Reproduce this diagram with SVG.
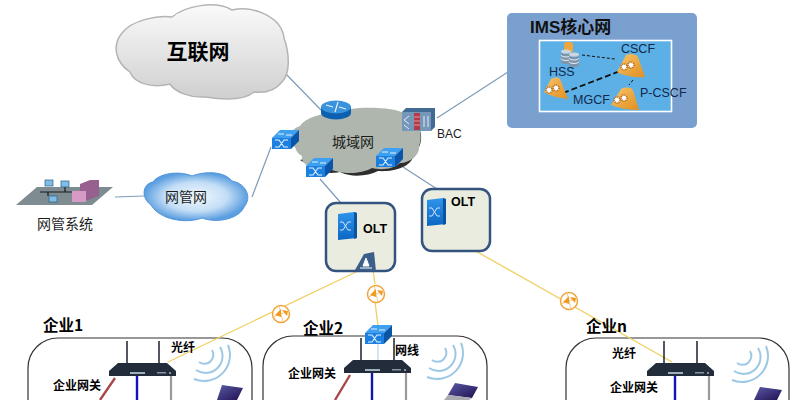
<svg xmlns="http://www.w3.org/2000/svg" xmlns:xlink="http://www.w3.org/1999/xlink" width="800" height="400" viewBox="0 0 800 400">
<style>
text{font-family:"Noto Sans CJK SC","Liberation Sans",sans-serif;fill:#1c1c1c}
.l{font-family:"Liberation Sans","Noto Sans CJK SC",sans-serif}
.b{font-weight:700;fill:#000}
.blue{stroke:#7f9cb8;stroke-width:1.2;fill:none}
.or{stroke:#f0d060;stroke-width:1.3;fill:none}
.box{fill:#fff;stroke:#333;stroke-width:1.2}
.olt{fill:#e9ecdf;stroke:#34537f;stroke-width:2.5}
.wifi{fill:none;stroke:#9cc8e6;stroke-width:2}
.ant{stroke:#2a2f3a;stroke-width:1.6}
.ims{font-size:12.500px;fill:#12284a}
</style>
<defs>
<linearGradient id="gi" x1="0" y1="0" x2="0" y2="1"><stop offset="0" stop-color="#fafafa"/><stop offset="1" stop-color="#cfcfcf"/></linearGradient>
<radialGradient id="gn"><stop offset="0" stop-color="#f4f9fe"/><stop offset=".6" stop-color="#c4def6"/><stop offset="1" stop-color="#5c9fe0"/></radialGradient>
<linearGradient id="gb" x1="0" y1="0" x2="0" y2="1"><stop offset="0" stop-color="#2f94ec"/><stop offset="1" stop-color="#0c66c4"/></linearGradient>
<linearGradient id="gc" x1="0" y1="0" x2="1" y2="1"><stop offset="0" stop-color="#f8c46a"/><stop offset="1" stop-color="#e08f20"/></linearGradient>
<linearGradient id="gl" x1="0" y1="0" x2="1" y2="1"><stop offset="0" stop-color="#5a5aa8"/><stop offset="1" stop-color="#20104f"/></linearGradient>
<g id="sw">
<path d="M0 8L8 0H27L19 8Z" fill="#3ea0f0"/>
<path d="M0 8H19V19H0Z" fill="#1c80e0"/>
<path d="M19 8L27 0V11L19 19Z" fill="#0a55a8"/>
<path d="M3 17H7L12 10H16M3 10H7L12 17H16M6 4H12M14 5H20" stroke="#e2f1fc" stroke-width="1.100" fill="none"/>
</g>
<g id="blade">
<path d="M0 2L16 0L19 1V26L0 28Z" fill="url(#gb)"/>
<path d="M16 0L19 1V26L16 27Z" fill="#0b559f"/>
<path d="M2 10H5L10 18H13M2 18H5L10 10H13" stroke="#cfe6fa" stroke-width="1" fill="none"/>
</g>
<g id="gw">
<path d="M9 0H58L67 8V13H0V8Z" fill="#222c3a"/>
<rect x="21" y="9" width="15" height="2" fill="#9fb0c0"/>
<rect x="48" y="9" width="9" height="1.500" fill="#8795a5"/>
<circle cx="61" cy="10" r="1" fill="#a8b6c4"/>
</g>
<g id="wf">
<path class="wifi" d="M212 350A9 9 0 0 1 199 362"/>
<path class="wifi" d="M220 347A17 17 0 0 1 196 370"/>
<path class="wifi" d="M228 345A26 26 0 0 1 194 379"/>
</g>
<g id="obs">
<circle r="8.500" fill="#fff" stroke="#f2a33a" stroke-width="1.500"/>
<path d="M-8 3L8 -3M-2 -8L2 8" stroke="#f7c98a" stroke-width="1"/>
<path d="M-6 1L0 -5V3ZM6 2L1 -4L7 -3Z" fill="#f09a1e"/>
</g>
<g id="gear"><circle r="3" fill="#fff" stroke="#b86a10" stroke-width="1.600" stroke-dasharray="1.200 .8"/><circle cx="7" cy="-2" r="3" fill="#fff" stroke="#b86a10" stroke-width="1.600" stroke-dasharray="1.200 .8"/></g>
<g id="db"><ellipse cx="5" cy="1.500" rx="5" ry="2" fill="#cdd6e0"/><path d="M0 2V12A5 2 0 0 0 10 12V2A5 2 0 0 1 0 2Z" fill="#7f93aa"/><path d="M0 5A5 2 0 0 0 10 5M0 8.500A5 2 0 0 0 10 8.500" fill="none" stroke="#e8eef3" stroke-width="1"/></g>
</defs>
<rect width="800" height="400" fill="#fff"/>

<g id="enterprise-boxes">
<rect class="box" x="28" y="338" width="224" height="90" rx="30"/>
<rect class="box" x="263" y="336" width="224" height="92" rx="30"/>
<rect class="box" x="566" y="338" width="223" height="90" rx="30"/>
</g>

<g id="connectors">
<path class="blue" d="M284 72L321 110M437 118L508 72M115 197L144 196M252 197L271 147M320 179L348 211M403 167L437 189"/>
<path class="or" d="M358 271L168 362M348 243L364 256M373 270L375 284M375 302L378 326M435 228L672 362"/>
<path d="M378 344V360" stroke="#b9d6ea" stroke-width="1.200"/>
<path d="M115 378L100 400M350 375L335 400" stroke="#a8484a" stroke-width="2.400"/>
<path d="M137 376V400M372 373V400M675 376V400" stroke="#1414b4" stroke-width="2.400"/>
<path d="M171 376V400M406 373V400M709 376V400" stroke="#9a9a9a" stroke-width="2.200"/>
</g>

<g id="internet">
<path d="M130 72C115 62 112 45 122 33C132 20 158 15 172 17C185 6 215 0 232 10C255 5 282 18 284 38C290 55 290 74 282 82C274 92 262 93 254 92C245 100 225 100 205 97C190 98 175 92 170 84C155 88 135 85 130 72Z" fill="url(#gi)" stroke="#b4b4b4" stroke-width="1.500"/>
<text x="198" y="59" font-size="21" font-weight="700" text-anchor="middle" class="b">互联网</text>
</g>

<g id="nms-net">
<path d="M151 205C141 198 142 184 153 182C158 174 178 170 192 176C205 171 224 171 232 181C247 184 252 198 244 207C240 218 218 224 202 218C186 224 160 220 151 205Z" fill="url(#gn)" stroke="#4f94dc" stroke-width="1"/>
<text x="186" y="202" font-size="14" text-anchor="middle">网管网</text>
</g>

<g id="nms">
<path d="M16 205L37 187H113L92 205Z" fill="#7e8c92"/>
<path d="M40 192H77M48 192V196M65 187V192" stroke="#1a1a1a" stroke-width="1.200"/>
<rect x="45" y="180" width="8" height="6" fill="#7fbde6" stroke="#2c5f88" stroke-width=".7"/><rect x="61" y="181" width="8" height="6" fill="#7fbde6" stroke="#2c5f88" stroke-width=".7"/><rect x="49" y="196" width="8" height="6" fill="#7fbde6" stroke="#2c5f88" stroke-width=".7"/>
<path d="M80 184L90 180H99V196L88 200H80Z" fill="#96608f"/>
<path d="M72 191H86V202H72Z" fill="#d79ac4"/>
<text x="65" y="229" font-size="14" text-anchor="middle">网管系统</text>
</g>

<g id="metro">
<path d="M310 166C320 170 325 175 340 172C352 178 368 176 378 171C392 172 412 168 414 154C420 148 423 140 420 130L300 160Z" fill="#2e2e2e"/>
<path d="M295 147C286 140 290 129 300 126C306 117 322 113 336 113C350 106 392 106 406 114C418 120 424 135 419 146C420 155 410 163 400 163C392 170 380 170 372 168C360 175 340 174 330 169C318 172 300 166 302 156C298 154 296 151 295 147Z" fill="#aeb6ad"/>
<text x="353" y="147" font-size="14" text-anchor="middle">城域网</text>
</g>

<g id="router">
<ellipse cx="336" cy="113" rx="15" ry="6.500" fill="#0d5fb0"/>
<rect x="321" y="107" width="30" height="6" fill="#0d5fb0"/>
<ellipse cx="336" cy="107" rx="15" ry="6.500" fill="#3a92dc"/>
<path d="M326 105L333 107M346 109L339 107M338 102L335 112" stroke="#e6f3fc" stroke-width="1.200"/>
</g>

<g id="bac">
<path d="M402 112L406 108H435V127L431 131H402Z" fill="#3f6b95"/>
<rect x="402" y="112" width="29" height="19" fill="#7597ba"/>
<rect x="414" y="113" width="6" height="17" fill="#b33a46"/>
<path d="M414 117H420M414 121H420M414 125H420" stroke="#e6b5b5" stroke-width=".8"/>
<path d="M409 116L404 120L409 124M404 125L409 129M424 116V127M428 116V127" stroke="#e4edf5" stroke-width="1" fill="none"/>
<text class="l" x="437" y="138" font-size="12">BAC</text>
</g>

<use id="switch-1" href="#sw" x="272" y="130"/>
<use id="switch-2" href="#sw" x="306" y="158"/>
<use id="switch-3" href="#sw" x="376" y="148"/>

<g id="olt-1">
<rect class="olt" x="326" y="203" width="69" height="68" rx="10"/>
<use href="#blade" x="338" y="212"/>
<text class="l b" x="363" y="233" font-size="12.500">OLT</text>
</g>
<g id="splitter">
<path d="M355 270L364 254L374 252L376 271Z" fill="#3b5f8a"/>
<path d="M366 258L363 266H369ZM360 268H372" stroke="#fff" stroke-width="1" fill="#fff"/>
</g>
<g id="olt-2">
<rect class="olt" x="422" y="189" width="68" height="62" rx="10"/>
<use href="#blade" x="427" y="198"/>
<text class="l b" x="451" y="206" font-size="12.500">OLT</text>
</g>

<g id="ims">
<rect x="507" y="13" width="190" height="115" rx="5" fill="#7aa0cf"/>
<rect x="539.500" y="40.500" width="132" height="71" fill="#5cb0e6" stroke="#fff" stroke-width="1.600"/>
<path d="M582 55L615 59M633 80L629 85" stroke="#111" stroke-width="1" stroke-dasharray="3 2" fill="none"/>
<path d="M563 93L620 71" stroke="#111" stroke-width="1.800" stroke-dasharray="6 3" fill="none"/>
<text class="l b" x="530" y="33" font-size="17" style="fill:#111">IMS核心网</text>
<rect x="564" y="42" width="9" height="11" rx="3" fill="#f0a63c"/>
<use href="#db" x="561" y="50"/><use href="#db" x="569" y="53"/>
<path d="M617 72L626 55C630 53 636 54 638 57L645 77C637 78 624 76 617 72Z" fill="url(#gc)"/><use href="#gear" x="624" y="67"/>
<path d="M544 92L551 79C554 77 558 77 560 79L568 99C560 98 550 96 544 92Z" fill="url(#gc)"/><use href="#gear" x="549" y="90"/>
<path d="M611 105L621 89C625 87 631 87 633 90L639 110C630 110 618 108 611 105Z" fill="url(#gc)"/><use href="#gear" x="617" y="100"/>
<text class="l ims" x="621" y="53">CSCF</text>
<text class="l ims" x="549" y="76">HSS</text>
<text class="l ims" x="573" y="104">MGCF</text>
<text class="l ims" x="640" y="97">P-CSCF</text>
</g>

<use id="splice-1" href="#obs" x="281" y="314"/>
<use id="splice-2" href="#obs" x="376" y="294"/>
<use id="splice-3" href="#obs" x="569" y="301"/>

<g id="enterprise-1">
<text class="b" x="43" y="331" font-size="15.500">企业1</text>
<path class="ant" d="M127 341V373M159 341V373"/>
<use href="#gw" x="109" y="363"/>
<text class="b" x="171" y="352" font-size="12">光纤</text>
<text class="b" x="53" y="390" font-size="12">企业网关</text>
<use href="#wf"/>
<path d="M222 385L243 388L237 400H217Z" fill="url(#gl)"/>
</g>

<g id="enterprise-2">
<text class="b" x="303" y="334" font-size="15.500">企业2</text>
<use href="#sw" x="365" y="325"/>
<path class="ant" d="M361 338V370M394 338V370"/>
<use href="#gw" x="344" y="360"/>
<text class="b" x="395" y="355" font-size="12">网线</text>
<text class="b" x="288" y="378" font-size="12">企业网关</text>
<use href="#wf" x="233" y="-2"/>
<path d="M455 383L478 387L472 398L448 395Z" fill="url(#gl)"/>
<path d="M448 395L472 398L469 400H444Z" fill="#a9a9b0"/>
</g>

<g id="enterprise-n">
<text class="b" x="586" y="332" font-size="15.500">企业n</text>
<path class="ant" d="M664 341V374M697 341V374"/>
<use href="#gw" x="647" y="363"/>
<text class="b" x="612" y="358" font-size="12">光纤</text>
<text class="b" x="610" y="392" font-size="12">企业网关</text>
<use href="#wf" x="538" y="1"/>
<path d="M760 387L782 390L777 400H754Z" fill="url(#gl)"/>
</g>
</svg>
